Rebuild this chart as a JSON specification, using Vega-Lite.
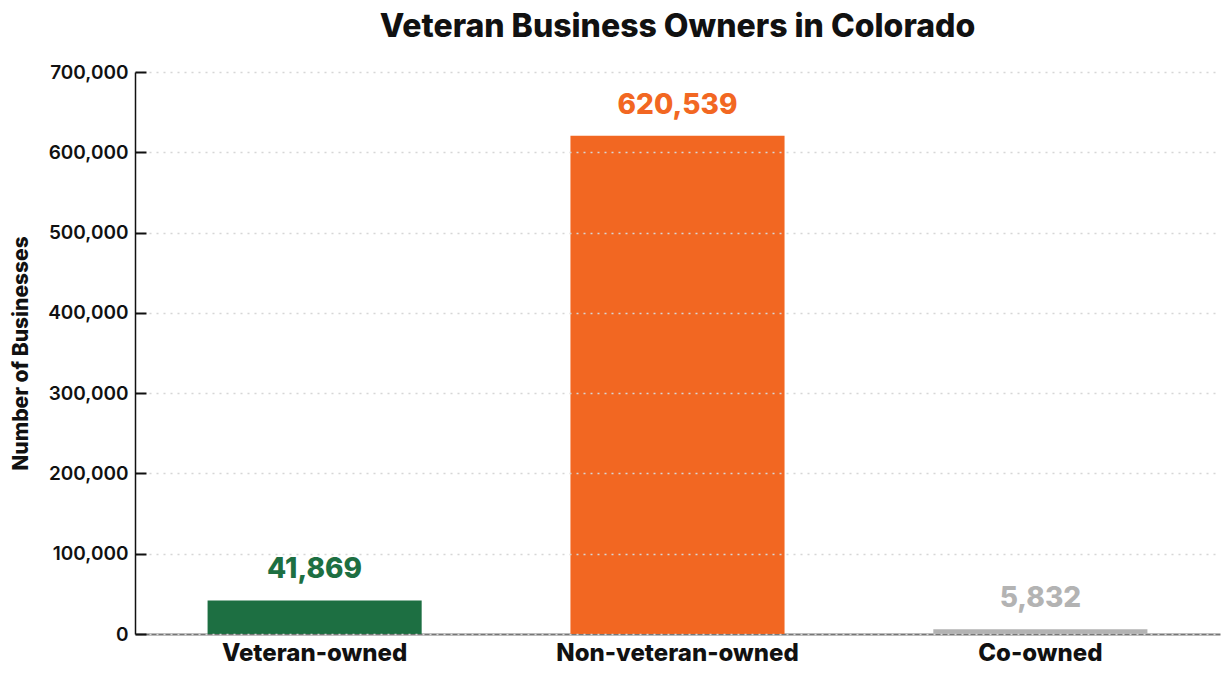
{
  "$schema": "https://vega.github.io/schema/vega-lite/v6.json",
  "width": 1085,
  "height": 562,
  "autosize": "none",
  "padding": {"left": 135, "top": 72, "right": 10, "bottom": 46},
  "background": "white",
  "title": {
    "text": "Veteran Business Owners in Colorado",
    "font": "Inter",
    "fontSize": 32,
    "fontWeight": 800,
    "color": "#111111",
    "anchor": "middle",
    "offset": 19
  },
  "data": {
    "values": [
      {"category": "Veteran-owned", "businesses": 41869, "label": "41,869"},
      {"category": "Non-veteran-owned", "businesses": 620539, "label": "620,539"},
      {"category": "Co-owned", "businesses": 5832, "label": "5,832"}
    ]
  },
  "encoding": {
    "x": {
      "field": "category",
      "type": "nominal",
      "sort": null,
      "scale": {"paddingInner": 0.41, "paddingOuter": 0.2},
      "axis": {
        "title": null,
        "labelAngle": 0,
        "labelFont": "Inter",
        "labelFontSize": 24,
        "labelFontWeight": 800,
        "labelColor": "#111111",
        "labelPadding": 7,
        "labelLimit": 0,
        "ticks": false,
        "domainColor": "#777777",
        "domainWidth": 2
      }
    },
    "y": {
      "field": "businesses",
      "type": "quantitative",
      "scale": {"domain": [0, 700000]},
      "axis": {
        "title": "Number of Businesses",
        "titleFont": "Inter",
        "titleFontSize": 21,
        "titleFontWeight": 800,
        "titleColor": "#111111",
        "titlePadding": 16,
        "values": [0, 100000, 200000, 300000, 400000, 500000, 600000, 700000],
        "labelExpr": "format(datum.value, ',')",
        "labelFont": "Inter",
        "labelFontSize": 19,
        "labelFontWeight": 600,
        "labelColor": "#111111",
        "tickSize": -11,
        "tickColor": "#111111",
        "tickWidth": 2,
        "labelPadding": 18,
        "domainColor": "#111111",
        "domainWidth": 1.5,
        "grid": true,
        "gridColor": "#d6d6d6",
        "gridDash": [2, 5],
        "gridWidth": 1.5,
        "zindex": 1
      }
    }
  },
  "layer": [
    {
      "mark": {"type": "bar"},
      "encoding": {
        "color": {
          "field": "category",
          "type": "nominal",
          "scale": {
            "domain": ["Veteran-owned", "Non-veteran-owned", "Co-owned"],
            "range": ["#1d6f42", "#f26722", "#b3b3b3"]
          },
          "legend": null
        }
      }
    },
    {
      "mark": {
        "type": "text",
        "baseline": "alphabetic",
        "dy": -22,
        "font": "Inter",
        "fontSize": 28,
        "fontWeight": 800
      },
      "encoding": {
        "text": {"field": "label"},
        "color": {
          "field": "category",
          "type": "nominal",
          "scale": {
            "domain": ["Veteran-owned", "Non-veteran-owned", "Co-owned"],
            "range": ["#1d6f42", "#f26722", "#b3b3b3"]
          },
          "legend": null
        }
      }
    }
  ],
  "config": {"view": {"stroke": null}}
}
